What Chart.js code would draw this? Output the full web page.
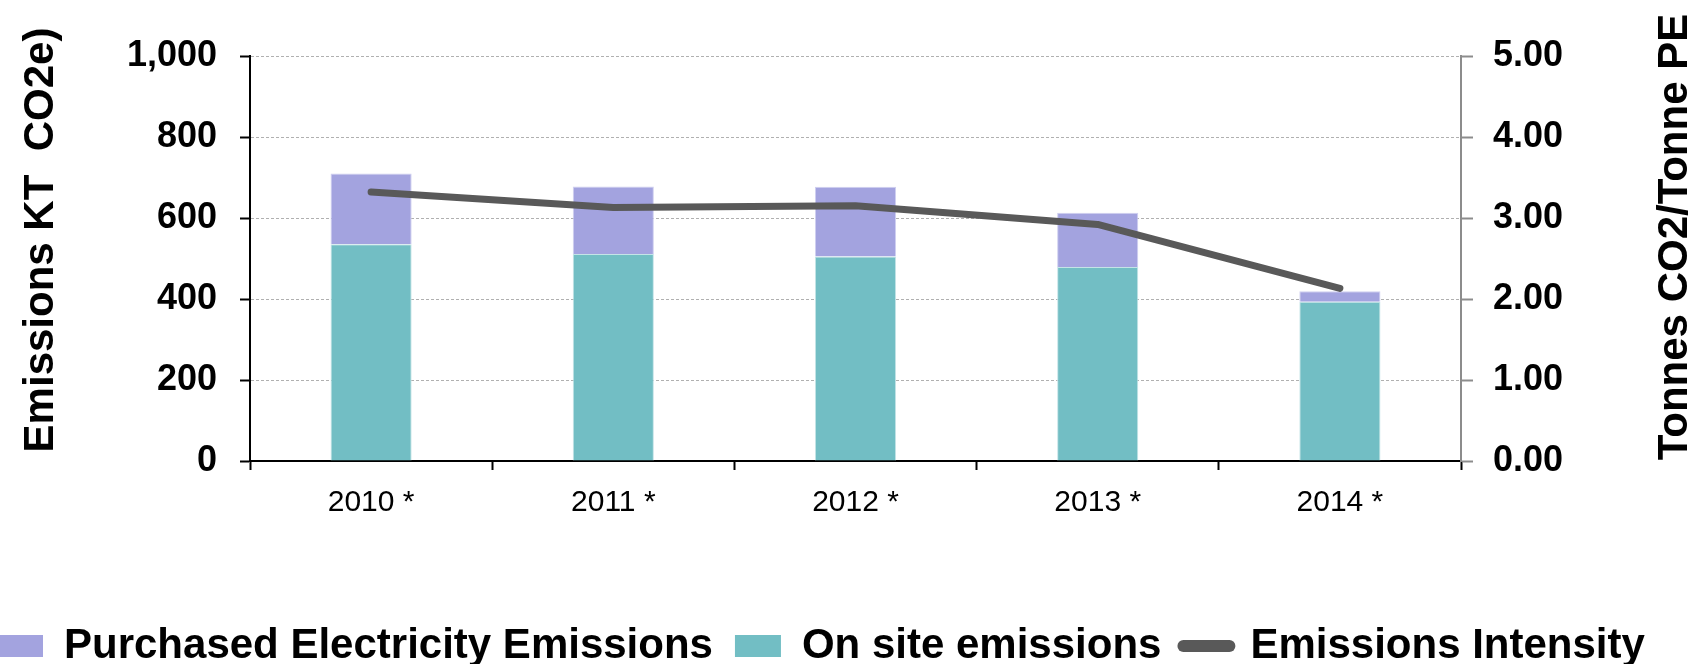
<!DOCTYPE html>
<html lang="en">
<head>
    <meta charset="UTF-8">
    <title>Emissions</title>
    <script src="https://cdn.jsdelivr.net/npm/chart.js"></script>
    <style>
        html, body {
            margin: 0;
            padding: 0;
            background: #fff;
        }
        #wrap {
            width: 1700px;
            height: 664px;
        }
    </style>
</head>
<body>
    <div id="wrap"><canvas id="emissionsChart" width="1700" height="664"></canvas></div>

    <script>
        // Dados
        const years = ['2010 *', '2011 *', '2012 *', '2013 *', '2014 *'];
        const onSite = [535, 511, 505, 479, 393];
        const purchased = [175, 167, 172, 134, 26];
        const intensity = [3.32, 3.13, 3.15, 2.92, 2.13];

        const leftTicks = [0, 200, 400, 600, 800, 1000];
        const rightTicks = [0, 1, 2, 3, 4, 5];

        const leftTitle = 'Emissions KT  CO2e)';
        const rightTitle = 'Tonnes CO2/Tonne PE';

        const fontFamily = '"Liberation Sans", Arial, sans-serif';
        const purpleColor = '#a3a3df';
        const tealColor = '#72bec4';
        const lineColor = '#595959';
        const legendRank = [1, 0, 2];

        // Títulos dos eixos, ambos girados -90 graus
        const axisTitles = {
            id: 'axisTitles',
            afterDraw(chart) {
                const ctx = chart.ctx;
                ctx.save();
                ctx.font = 'bold 42px ' + fontFamily;
                ctx.fillStyle = '#000';
                ctx.textAlign = 'center';
                ctx.textBaseline = 'alphabetic';
                [[leftTitle, 53, 240], [rightTitle, 1687, 237]].forEach(([text, x, y]) => {
                    ctx.save();
                    ctx.translate(x, y);
                    ctx.rotate(-Math.PI / 2);
                    ctx.fillText(text, 0, 0);
                    ctx.restore();
                });
                ctx.restore();
            }
        };

        const ctx = document.getElementById('emissionsChart').getContext('2d');
        new Chart(ctx, {
            type: 'bar',
            data: {
                labels: years,
                datasets: [
                    {
                        label: 'On site emissions',
                        data: onSite,
                        backgroundColor: tealColor,
                        borderColor: '#c4e4e7',
                        borderWidth: 1,
                        yAxisID: 'y',
                        order: 1
                    },
                    {
                        label: 'Purchased Electricity Emissions',
                        data: purchased,
                        backgroundColor: purpleColor,
                        borderColor: '#cfcff0',
                        borderWidth: 1,
                        yAxisID: 'y',
                        order: 1
                    },
                    {
                        type: 'line',
                        label: 'Emissions Intensity',
                        data: intensity,
                        borderColor: lineColor,
                        backgroundColor: lineColor,
                        borderWidth: 7,
                        borderCapStyle: 'round',
                        borderJoinStyle: 'round',
                        pointRadius: 0,
                        tension: 0,
                        yAxisID: 'y1',
                        order: 0
                    }
                ]
            },
            options: {
                responsive: false,
                animation: false,
                layout: {
                    padding: { top: 56, left: -25, right: 0, bottom: -13 }
                },
                datasets: {
                    bar: {
                        barPercentage: 0.335,
                        categoryPercentage: 1
                    }
                },
                plugins: {
                    tooltip: { enabled: false },
                    legend: {
                        position: 'bottom',
                        align: 'start',
                        labels: {
                            color: '#000',
                            font: { family: fontFamily, size: 42, weight: 'bold' },
                            padding: 22,
                            usePointStyle: true,
                            pointStyleWidth: 46,
                            boxHeight: 22,
                            sort: (a, b) => legendRank[a.datasetIndex] - legendRank[b.datasetIndex],
                            generateLabels: chart => {
                                const items = Chart.defaults.plugins.legend.labels.generateLabels(chart);
                                items.forEach(it => {
                                    if (it.datasetIndex === 2) {
                                        it.pointStyle = 'line';
                                        it.lineWidth = 12;
                                        it.lineCap = 'round';
                                        it.strokeStyle = lineColor;
                                    } else {
                                        it.pointStyle = 'rect';
                                        it.lineWidth = 0;
                                    }
                                });
                                return items;
                            }
                        }
                    }
                },
                scales: {
                    x: {
                        stacked: true,
                        z: 1,
                        afterFit: s => { s.height = 142; },
                        border: { color: '#000', width: 2 },
                        grid: {
                            drawOnChartArea: false,
                            drawTicks: true,
                            tickLength: 9,
                            tickColor: '#000',
                            tickWidth: 2,
                            color: '#000'
                        },
                        ticks: {
                            color: '#000',
                            padding: 15,
                            font: { family: fontFamily, size: 30 }
                        }
                    },
                    y: {
                        position: 'left',
                        stacked: true,
                        min: 0,
                        max: 1000,
                        afterFit: s => { s.width = 275; },
                        afterBuildTicks: s => { s.ticks = leftTicks.map(v => ({ value: v })); },
                        border: { color: '#000', width: 2, dash: [3, 2] },
                        grid: {
                            color: '#b0b0b0',
                            lineWidth: 1,
                            tickLength: 10,
                            tickColor: '#000',
                            tickWidth: 2,
                            tickBorderDash: []
                        },
                        ticks: {
                            color: '#000',
                            padding: 23,
                            font: { family: fontFamily, size: 36, weight: 'bold' },
                            callback: v => v.toLocaleString('en-US')
                        }
                    },
                    y1: {
                        position: 'right',
                        min: 0,
                        max: 5,
                        afterFit: s => { s.width = 239; },
                        afterBuildTicks: s => { s.ticks = rightTicks.map(v => ({ value: v })); },
                        border: { color: '#8c8c8c', width: 2 },
                        grid: {
                            drawOnChartArea: false,
                            tickLength: 12,
                            tickColor: '#8c8c8c',
                            tickWidth: 2
                        },
                        ticks: {
                            color: '#000',
                            padding: 20,
                            font: { family: fontFamily, size: 36, weight: 'bold' },
                            callback: v => v.toFixed(2)
                        }
                    }
                }
            },
            plugins: [axisTitles]
        });
    </script>
</body>
</html>
